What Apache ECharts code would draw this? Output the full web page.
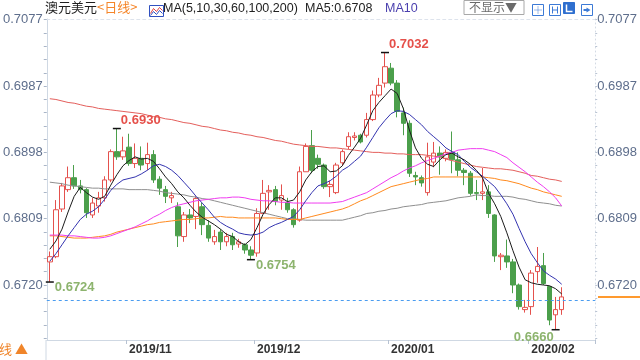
<!DOCTYPE html>
<html><head><meta charset="utf-8">
<script src="https://cdn.jsdelivr.net/npm/echarts@6/dist/echarts.min.js"></script>
<style>html,body{margin:0;padding:0;background:#fff}#c{width:640px;height:360px}</style>
</head><body><div id="c"></div>
<script>
// ---------- data ----------
const octDates = ['2019/10/15','2019/10/16','2019/10/17','2019/10/18','2019/10/21','2019/10/22','2019/10/23','2019/10/24','2019/10/25','2019/10/28','2019/10/29','2019/10/30','2019/10/31'];
const novDates = ['2019/11/01','2019/11/04','2019/11/05','2019/11/06','2019/11/07','2019/11/08','2019/11/11','2019/11/12','2019/11/13','2019/11/14','2019/11/15','2019/11/18','2019/11/19','2019/11/20','2019/11/21','2019/11/22','2019/11/25','2019/11/26','2019/11/27','2019/11/28','2019/11/29'];
const decDates = ['2019/12/02','2019/12/03','2019/12/04','2019/12/05','2019/12/06','2019/12/09','2019/12/10','2019/12/11','2019/12/12','2019/12/13','2019/12/16','2019/12/17','2019/12/18','2019/12/19','2019/12/20','2019/12/23','2019/12/24','2019/12/25','2019/12/26','2019/12/27','2019/12/30','2019/12/31'];
const janDates = ['2020/01/01','2020/01/02','2020/01/03','2020/01/06','2020/01/07','2020/01/08','2020/01/09','2020/01/10','2020/01/13','2020/01/14','2020/01/15','2020/01/16','2020/01/17','2020/01/20','2020/01/21','2020/01/22','2020/01/23','2020/01/24','2020/01/27','2020/01/28','2020/01/29','2020/01/30','2020/01/31'];
const febDates = ['2020/02/03','2020/02/04','2020/02/05','2020/02/06','2020/02/07','2020/02/10'];
const padSlots = ['p1','p2','p3','p4','p5'];

const opens = [0.6751,0.6758,0.6822,0.6848,0.6864,0.6853,0.6848,0.6814,0.6826,0.6837,
0.6861,0.6899,0.6892,0.6905,0.6883,0.6890,0.6883,0.6895,0.6862,0.6848,
0.6837,0.6825,0.6785,0.6814,0.6812,0.6825,0.6800,0.6778,0.6791,0.6778,
0.6785,0.6775,0.6774,0.6767,0.6763,0.6816,0.6845,0.6848,0.6834,0.6831,
0.6821,0.6807,0.6872,0.6907,0.6890,0.6881,0.6852,0.6844,0.6884,0.6906,
0.6918,0.6921,0.6921,0.6942,0.6975,0.6991,0.7011,0.6991,0.6951,0.6937,
0.6867,0.6864,0.6844,0.6885,0.6897,0.6890,0.6898,0.6888,0.6874,0.6870,
0.6844,0.6843,0.6845,0.6814,0.6758,0.6759,0.6751,0.6720,0.6687,0.6691,
0.6738,0.6746,0.6718,0.6680,0.6687];
const closes = [0.6758,0.6821,0.6853,0.6864,0.6853,0.6848,0.6817,0.6830,0.6837,0.6861,
0.6899,0.6892,0.6900,0.6883,0.6890,0.6881,0.6895,0.6861,0.6850,0.6839,
0.6840,0.6786,0.6814,0.6810,0.6836,0.6801,0.6783,0.6785,0.6778,0.6785,
0.6774,0.6778,0.6767,0.6760,0.6816,0.6843,0.6847,0.6832,0.6840,0.6821,
0.6801,0.6872,0.6906,0.6874,0.6882,0.6852,0.6855,0.6881,0.6899,0.6919,
0.6920,0.6912,0.6942,0.6975,0.6988,0.7013,0.6991,0.6953,0.6937,0.6870,
0.6865,0.6857,0.6892,0.6897,0.6892,0.6898,0.6888,0.6874,0.6871,0.6843,
0.6843,0.6845,0.6816,0.6759,0.6760,0.6751,0.6720,0.6691,0.6690,0.6736,
0.6745,0.6722,0.6673,0.6687,0.6704];
const lows = [0.6724,0.6756,0.6818,0.6845,0.6849,0.6843,0.6810,0.6810,0.6817,0.6832,
0.6858,0.6888,0.6888,0.6880,0.6877,0.6874,0.6874,0.6857,0.6841,0.6830,
0.6830,0.6771,0.6778,0.6803,0.6795,0.6787,0.6778,0.6774,0.6767,0.6772,
0.6767,0.6770,0.6762,0.6754,0.6758,0.6816,0.6821,0.6827,0.6821,0.6817,
0.6797,0.6805,0.6872,0.6870,0.6876,0.6849,0.6838,0.6842,0.6880,0.6902,
0.6914,0.6910,0.6918,0.6940,0.6972,0.6985,0.6988,0.6945,0.6921,0.6865,
0.6854,0.6852,0.6840,0.6878,0.6868,0.6886,0.6870,0.6866,0.6854,0.6840,
0.6834,0.6834,0.6810,0.6751,0.6740,0.6743,0.6709,0.6687,0.6683,0.6680,
0.6723,0.6720,0.6666,0.6660,0.6680];
const highs = [0.6765,0.6834,0.6857,0.6879,0.6881,0.6861,0.6850,0.6837,0.6845,0.6866,
0.6902,0.6930,0.6919,0.6923,0.6910,0.6906,0.6911,0.6901,0.6866,0.6853,
0.6845,0.6831,0.6818,0.6822,0.6839,0.6830,0.6807,0.6794,0.6795,0.6790,
0.6790,0.6782,0.6776,0.6772,0.6823,0.6861,0.6854,0.6853,0.6855,0.6837,
0.6823,0.6879,0.6910,0.6928,0.6895,0.6883,0.6860,0.6884,0.6902,0.6925,
0.6925,0.6923,0.6951,0.6981,0.6998,0.7032,0.7018,0.6995,0.6958,0.6941,
0.6872,0.6867,0.6911,0.6912,0.6906,0.6902,0.6926,0.6898,0.6877,0.6873,
0.6861,0.6877,0.6854,0.6815,0.6763,0.6781,0.6755,0.6722,0.6700,0.6740,
0.6771,0.6763,0.6719,0.6704,0.6717];

const ma5 = [0.6768,0.6779,0.6795,0.6818,0.6839,0.6851,0.6844,0.6838,0.6835,0.6839,
0.6854,0.6868,0.6880,0.6887,0.6892,0.6889,0.6890,0.6886,0.6876,0.6865,
0.6856,0.6845,0.6837,0.6827,0.6818,0.6811,0.6806,0.6801,0.6795,0.6788,
0.6785,0.6778,0.6774,0.6781,0.6797,0.6815,0.6828,0.6837,0.6837,0.6832,
0.6834,0.6845,0.6861,0.6872,0.6879,0.6880,0.6872,0.6873,0.6880,0.6894,
0.6905,0.6917,0.6935,0.6954,0.6965,0.6974,0.6983,0.6977,0.6957,0.6928,
0.6904,0.6890,0.6882,0.6879,0.6888,0.6895,0.6897,0.6892,0.6888,0.6882,
0.6874,0.6864,0.6843,0.6829,0.6812,0.6790,0.6766,0.6744,0.6727,0.6723,
0.6721,0.6720,0.6719,0.6715,0.6708];
const ma10 = [0.6752,0.6762,0.6774,0.6786,0.6797,0.6808,0.6815,0.6819,0.6825,0.6835,
0.6847,0.6855,0.6861,0.6863,0.6865,0.6869,0.6874,0.6880,0.6882,0.6879,
0.6874,0.6867,0.6858,0.6849,0.6839,0.6830,0.6821,0.6811,0.6804,0.6799,
0.6795,0.6790,0.6788,0.6787,0.6788,0.6791,0.6797,0.6801,0.6804,0.6808,
0.6812,0.6821,0.6833,0.6844,0.6853,0.6856,0.6860,0.6866,0.6874,0.6879,
0.6886,0.6893,0.6905,0.6918,0.6931,0.6941,0.6950,0.6954,0.6953,0.6949,
0.6942,0.6935,0.6926,0.6919,0.6912,0.6904,0.6899,0.6895,0.6886,0.6878,
0.6872,0.6866,0.6859,0.6852,0.6841,0.6829,0.6815,0.6796,0.6778,0.6762,
0.6750,0.6739,0.6733,0.6728,0.6721];
const ma30 = [0.6787,0.6787,0.6787,0.6786,0.6786,0.6785,0.6784,0.6783,0.6783,0.6784,
0.6786,0.6789,0.6792,0.6795,0.6798,0.6802,0.6806,0.6811,0.6815,0.6820,
0.6824,0.6827,0.6829,0.6831,0.6833,0.6834,0.6835,0.6836,0.6837,0.6837,
0.6838,0.6838,0.6837,0.6835,0.6834,0.6833,0.6833,0.6832,0.6831,0.6831,
0.6830,0.6830,0.6830,0.6830,0.6830,0.6830,0.6830,0.6831,0.6832,0.6835,
0.6838,0.6841,0.6844,0.6849,0.6854,0.6859,0.6864,0.6868,0.6873,0.6877,
0.6880,0.6884,0.6887,0.6890,0.6893,0.6896,0.6898,0.6901,0.6902,0.6903,
0.6903,0.6903,0.6901,0.6899,0.6895,0.6891,0.6884,0.6878,0.6872,0.6865,
0.6858,0.6852,0.6845,0.6837,0.6826];
const ma60 = [0.6786,0.6786,0.6785,0.6784,0.6783,0.6783,0.6783,0.6784,0.6785,0.6786,
0.6788,0.6791,0.6793,0.6795,0.6797,0.6799,0.6801,0.6802,0.6804,0.6805,
0.6806,0.6807,0.6808,0.6808,0.6809,0.6810,0.6810,0.6811,0.6812,0.6811,
0.6811,0.6810,0.6810,0.6810,0.6810,0.6810,0.6810,0.6810,0.6809,0.6808,
0.6808,0.6808,0.6810,0.6812,0.6814,0.6816,0.6818,0.6820,0.6822,0.6825,
0.6829,0.6833,0.6836,0.6840,0.6844,0.6848,0.6852,0.6854,0.6856,0.6858,
0.6860,0.6862,0.6863,0.6865,0.6865,0.6865,0.6865,0.6865,0.6865,0.6865,
0.6865,0.6865,0.6864,0.6863,0.6861,0.6860,0.6858,0.6856,0.6853,0.6850,
0.6848,0.6845,0.6843,0.6841,0.6839];
const ma100 = [0.6858,0.6857,0.6856,0.6854,0.6853,0.6852,0.6851,0.6850,0.6850,0.6849,
0.6849,0.6849,0.6849,0.6848,0.6848,0.6848,0.6848,0.6847,0.6846,0.6844,
0.6843,0.6842,0.6841,0.6839,0.6838,0.6836,0.6835,0.6833,0.6831,0.6829,
0.6827,0.6825,0.6823,0.6821,0.6819,0.6817,0.6815,0.6813,0.6811,0.6809,
0.6809,0.6808,0.6807,0.6807,0.6807,0.6807,0.6807,0.6807,0.6807,0.6809,
0.6811,0.6813,0.6816,0.6817,0.6819,0.6820,0.6822,0.6823,0.6825,0.6826,
0.6827,0.6828,0.6830,0.6831,0.6832,0.6833,0.6835,0.6837,0.6838,0.6839,
0.6841,0.6840,0.6840,0.6839,0.6839,0.6839,0.6838,0.6836,0.6835,0.6833,
0.6831,0.6830,0.6829,0.6827,0.6826];
const ma200 = [0.6970,0.6969,0.6967,0.6965,0.6964,0.6962,0.6960,0.6959,0.6957,0.6956,
0.6955,0.6954,0.6953,0.6952,0.6951,0.6950,0.6948,0.6946,0.6945,0.6943,
0.6942,0.6940,0.6938,0.6937,0.6935,0.6933,0.6932,0.6930,0.6928,0.6927,
0.6925,0.6924,0.6922,0.6921,0.6919,0.6918,0.6916,0.6914,0.6913,0.6911,
0.6909,0.6908,0.6907,0.6906,0.6906,0.6905,0.6904,0.6904,0.6903,0.6902,
0.6901,0.6900,0.6899,0.6898,0.6898,0.6897,0.6897,0.6896,0.6896,0.6895,
0.6895,0.6895,0.6894,0.6893,0.6892,0.6889,0.6887,0.6885,0.6883,0.6881,
0.6879,0.6878,0.6877,0.6876,0.6876,0.6875,0.6874,0.6872,0.6870,0.6867,
0.6866,0.6864,0.6862,0.6861,0.6859];

const yTickLabels = ['0.6720','0.6809','0.6898','0.6987','0.7077'];
const monthLabels = ['2019/11','2019/12','2020/01','2020/02'];

// ---------- derived ----------
const dates = octDates.concat(novDates, decDates, janDates, febDates);
const cats = dates.concat(padSlots);
const monthStarts = monthLabels.map(m => dates.findIndex(d => d.indexOf(m) === 0));
const majorTicks = yTickLabels.map(Number);
const step = (majorTicks[1] - majorTicks[0]) / 5;
const allTicks = [];
for (let k = -4; k <= 20; k++) allTicks.push(+(majorTicks[0] + k * step).toFixed(6));
const yMin = 0.66462, yMax = 0.7077;
const kData = opens.map((o, i) => [o, closes[i], lows[i], highs[i]]);
const last = closes[closes.length - 1];

function extreme(kind, from, to) {
  let idx = from;
  for (let i = from; i <= to; i++) {
    if (kind === 'high' ? highs[i] > highs[idx] : lows[i] < lows[idx]) idx = i;
  }
  return { idx, value: kind === 'high' ? highs[idx] : lows[idx] };
}
const extremeSpecs = [
  { kind: 'high', from: 0, to: 30, side: 'right' },
  { kind: 'high', from: 31, to: 84, side: 'right' },
  { kind: 'low', from: 0, to: 10, side: 'right' },
  { kind: 'low', from: 20, to: 45, side: 'right' },
  { kind: 'low', from: 60, to: 84, side: 'left' }
];
const markPoints = extremeSpecs.map(s => {
  const e = extreme(s.kind, s.from, s.to);
  const isHigh = s.kind === 'high';
  return {
    coord: [e.idx, e.value],
    symbol: 'rect', symbolSize: [8, 1.5],
    itemStyle: { color: '#111' },
    label: {
      show: true, formatter: e.value.toFixed(4),
      position: isHigh ? [8, -14] : (s.side === 'right' ? [9, 0] : [2, 2]),
      align: s.side === 'right' ? 'left' : 'right', verticalAlign: 'top',
      color: isHigh ? '#e5504a' : '#8db46e',
      fontSize: 13, fontWeight: 'bold', fontFamily: 'Liberation Sans, Arial, sans-serif'
    }
  };
});

const maDefs = [
  ['MA200', ma200, '#e45f5c'],
  ['MA100', ma100, '#8f8f8f'],
  ['MA60', ma60, '#ff8a1e'],
  ['MA30', ma30, '#f03cf0'],
  ['MA10', ma10, '#3434b0'],
  ['MA5', ma5, '#1c1c1c']
];

const latin = 'Liberation Sans, Arial, sans-serif';
const cjk = '"Noto Sans CJK SC", sans-serif';
const isMonth = (i) => monthStarts.indexOf(i) >= 0;

const chart = echarts.init(document.getElementById('c'));
chart.setOption({
  animation: false,
  backgroundColor: '#ffffff',
  grid: [
    { left: 46, right: 43, top: 19, bottom: 20 },
    { left: 598, right: 0, top: 19, bottom: 20 }
  ],
  xAxis: [
    { type: 'category', gridIndex: 0, data: cats, boundaryGap: true,
      axisLine: { lineStyle: { color: '#cfd8e3' } },
      axisTick: { show: true, interval: isMonth, length: 4, lineStyle: { color: '#b7c2d2' } },
      axisLabel: { interval: isMonth, formatter: v => v.slice(0, 7), align: 'left', margin: 4,
        color: '#333', fontWeight: 'bold', fontSize: 12, fontFamily: latin },
      splitLine: { show: false } },
    { type: 'category', gridIndex: 0, data: cats, position: 'top',
      axisLine: { show: true, lineStyle: { color: '#dde3ec', type: [3, 3] } },
      axisTick: { show: false }, axisLabel: { show: false } },
    { type: 'category', gridIndex: 1, data: ['a', 'b'], boundaryGap: false, show: false }
  ],
  yAxis: [
    { type: 'value', gridIndex: 0, position: 'left', min: yMin, max: yMax,
      axisLine: { show: true, lineStyle: { color: '#cfd8e3' } },
      axisTick: { show: true, customValues: allTicks, length: 3, lineStyle: { color: '#a9b5c7' } },
      axisLabel: { customValues: majorTicks, formatter: v => v.toFixed(4), color: '#5e6e8c',
        fontSize: 13, margin: 4, fontFamily: latin },
      splitLine: { show: false } },
    { type: 'value', gridIndex: 0, position: 'right', min: yMin, max: yMax,
      axisLine: { show: true, lineStyle: { color: '#d3dae4', type: [1, 3] } },
      axisTick: { show: true, customValues: allTicks, length: 2, lineStyle: { color: '#b9c3d2' } },
      axisLabel: { customValues: majorTicks, formatter: v => v.toFixed(4), color: '#5e6e8c',
        fontSize: 13, margin: 2, fontFamily: latin },
      splitLine: { show: false } },
    { type: 'value', gridIndex: 1, min: yMin, max: yMax, show: false }
  ],
  series: [
    { type: 'candlestick', name: '澳元美元', xAxisIndex: 0, yAxisIndex: 0, data: kData, barWidth: 5,
      itemStyle: { color: '#ffffff', color0: '#4b9f4b', borderColor: '#e4514d', borderColor0: '#4b9f4b', borderWidth: 1 },
      markPoint: { data: markPoints, animation: false },
      markLine: { symbol: ['none', 'none'], silent: true, animation: false,
        label: { show: false },
        lineStyle: { color: '#4a9cf0', type: [3, 3], width: 1 },
        data: [{ yAxis: last }] },
      z: 2 }
  ].concat(maDefs.map(d => ({
    type: 'line', name: d[0], data: d[1], xAxisIndex: 0, yAxisIndex: 0,
    symbol: 'none', lineStyle: { color: d[2], width: 1 }, itemStyle: { color: d[2] }, z: 3
  }))).concat([
    { type: 'line', xAxisIndex: 2, yAxisIndex: 2, data: [last, last], symbol: 'none',
      lineStyle: { color: '#ff9a2e', width: 2 } }
  ]),
  graphic: [
    { type: 'text', left: 45, top: 1, style: { text: '澳元美元', fill: '#1f1f1f', font: '13px ' + cjk } },
    { type: 'text', left: 97, top: 1, style: { text: '<日线>', fill: '#f5862a', font: '13px ' + cjk } },
    { type: 'group', left: 147, top: 3, children: [
      { type: 'rect', shape: { x: 0, y: 0, width: 14, height: 11 }, style: { fill: 'none', stroke: '#3050c0', lineWidth: 1 } },
      { type: 'polyline', shape: { points: [[1, 8], [4, 3], [7, 6], [10, 2], [13, 5]] }, style: { fill: 'none', stroke: '#e04040', lineWidth: 1 } },
      { type: 'polyline', shape: { points: [[1, 10], [4, 6], [7, 9], [10, 5], [13, 8]] }, style: { fill: 'none', stroke: '#3050c0', lineWidth: 1 } }
    ] },
    { type: 'text', left: 163, top: 2, style: { text: 'MA(5,10,30,60,100,200)', fill: '#222', font: '12.5px ' + latin } },
    { type: 'text', left: 305, top: 2, style: { text: 'MA5:' + ma5[ma5.length - 1].toFixed(4), fill: '#222', font: '12.5px ' + latin } },
    { type: 'text', left: 385, top: 2, style: { text: 'MA10', fill: '#4a3fae', font: '12.5px ' + latin } },
    { type: 'rect', shape: { x: 464, y: 0.5, width: 60, height: 14 }, style: { fill: '#fff', stroke: '#a8a8a8', lineWidth: 1 } },
    { type: 'text', left: 469, top: 1, style: { text: '不显示▼', fill: '#6a6a6a', font: '12px ' + cjk } },
    { type: 'group', left: 530, top: 2, children: [
      { type: 'rect', shape: { x: 0, y: 0, width: 11, height: 11 }, style: { fill: 'none', stroke: '#3c7ad6' } },
      { type: 'line', shape: { x1: 5.5, y1: 2, x2: 5.5, y2: 9 }, style: { stroke: '#3c7ad6', lineDash: [1, 1] } },
      { type: 'line', shape: { x1: 2, y1: 5.5, x2: 9, y2: 5.5 }, style: { stroke: '#3c7ad6', lineDash: [1, 1] } }
    ] },
    { type: 'group', left: 547, top: 2, children: [
      { type: 'rect', shape: { x: 0, y: 0, width: 11, height: 11 }, style: { fill: 'none', stroke: '#3c7ad6' } },
      { type: 'line', shape: { x1: 3, y1: 2, x2: 3, y2: 9 }, style: { stroke: '#3c7ad6' } },
      { type: 'line', shape: { x1: 8, y1: 2, x2: 8, y2: 9 }, style: { stroke: '#3c7ad6' } },
      { type: 'line', shape: { x1: 3, y1: 5.5, x2: 8, y2: 5.5 }, style: { stroke: '#3c7ad6' } }
    ] },
    { type: 'group', left: 563, top: 2, children: [
      { type: 'rect', shape: { x: 0, y: 0, width: 11, height: 11 }, style: { fill: '#2f6fcf', stroke: '#2f6fcf' } },
      { type: 'polyline', shape: { points: [[3, 2], [3, 9], [9, 9]] }, style: { fill: 'none', stroke: '#fff', lineWidth: 1.5 } }
    ] },
    { type: 'group', left: 579, top: 2, children: [
      { type: 'rect', shape: { x: 0, y: 0, width: 11, height: 11 }, style: { fill: 'none', stroke: '#3c7ad6' } },
      { type: 'polygon', shape: { points: [[5, 3], [9, 5.5], [5, 8]] }, style: { fill: '#3c7ad6' } },
      { type: 'line', shape: { x1: 2, y1: 5.5, x2: 6, y2: 5.5 }, style: { stroke: '#3c7ad6', lineWidth: 2 } }
    ] },
    { type: 'line', shape: { x1: 46, y1: 340, x2: 46, y2: 360 }, style: { stroke: '#cfd8e3' } },
    { type: 'text', left: -1, top: 343, style: { text: '线 ▲', fill: '#f0852a', font: '13px ' + cjk } }
  ]
});
</script>
</body></html>
